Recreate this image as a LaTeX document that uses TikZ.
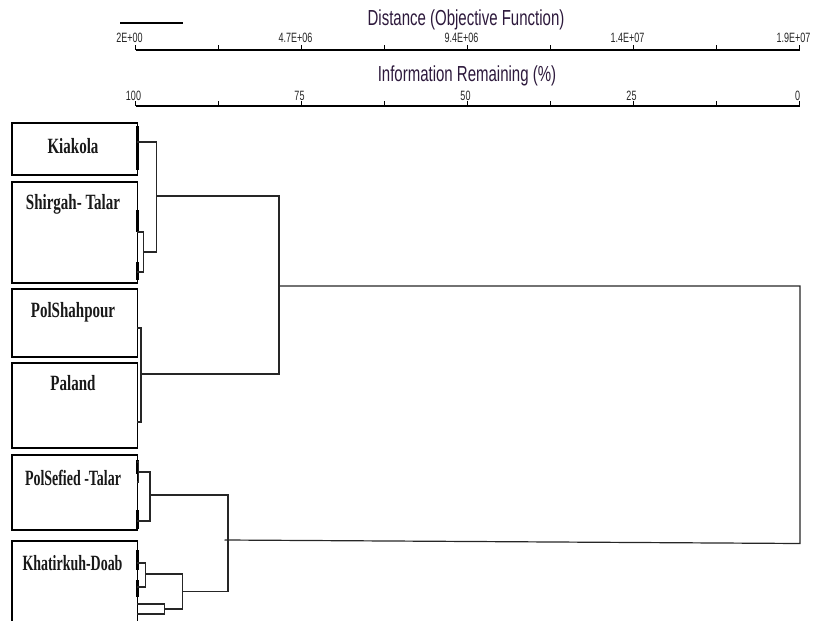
\documentclass[tikz,border=0pt]{standalone}
\usepackage{fontspec}
\setmainfont{Liberation Serif}
\newfontfamily\axfont{Liberation Sans}
\newcommand\vstretch[2]{\scalebox{1}[#1]{#2}}
\definecolor{titlecol}{RGB}{45,25,60}
\begin{document}
\begin{tikzpicture}[x=1pt,y=-1pt,
  box/.style={draw=black, line width=1.5pt, inner sep=0pt, minimum width=125.5pt, anchor=north west},
  lab/.style={font=\bfseries\fontsize{15}{15}\selectfont, inner sep=0pt, text=black!90},
  link/.style={draw=black!85, line width=1.2pt},
  blob/.style={draw=black, line width=2.4pt},
  axisline/.style={draw=black, line width=1.4pt},
  ticklab/.style={font=\axfont\fontsize{9}{9}\selectfont, inner sep=0pt, text=black!85},
  axtitle/.style={font=\axfont\fontsize{15}{15}\selectfont, inner sep=0pt, text=titlecol}]
\useasboundingbox (0,0) rectangle (815,621);

% ---- axes ----
\node[axtitle] (t1) at (466,20) {\vstretch{1.45}{Distance (Objective Function)}};
\node[axtitle] (t2) at (467,76) {\vstretch{1.45}{Information Remaining (\%)}};
\coordinate (sb1) at (120,23); \coordinate (sb2) at (183,23);
\draw[line width=1.3pt] (sb1) -- (sb2);

\coordinate (a1s) at (135.5,50); \coordinate (a1e) at (799.5,50);
\draw[axisline] (a1s) -- (a1e);
\foreach \k in {0,...,8}{
  \draw[line width=1.3pt] (135.5+83*\k,50) -- (135.5+83*\k,45);
}
\foreach \k/\t in {0/2E+00,2/4.7E+06,4/9.4E+06,6/1.4E+07,8/1.9E+07}{
  \node[ticklab] at (135.5+83*\k-6,37.5) {\vstretch{1.5}{\t}};
}
\coordinate (a2s) at (135.5,106); \coordinate (a2e) at (799.5,106);
\draw[axisline, line width=2pt] (a2s) -- (a2e);
\foreach \k in {0,...,8}{
  \draw[line width=1.3pt] (135.5+83*\k,106) -- (135.5+83*\k,101);
}
\foreach \k/\t in {0/100,2/75,4/50,6/25,8/0}{
  \node[ticklab] at (135.5+83*\k-2,96) {\vstretch{1.5}{\t}};
}

% ---- leaf boxes ----
\node[box, minimum height=52pt] (kia) at (11,122) {};
\node[box, minimum height=101pt] (shi) at (11,181) {};
\node[box, minimum height=68pt] (pols) at (11,288) {};
\node[box, minimum height=85pt] (pal) at (11,362) {};
\node[box, minimum height=75pt] (pse) at (11,454) {};
\node[box, minimum height=90pt] (kha) at (11,540) {};

\node[lab] (kiat) at (73,146) {\vstretch{1.45}{Kiakola}};
\node[lab] (shit) at (73,204) {\vstretch{1.45}{Shirgah- Talar}};
\node[lab] (polst) at (73,312) {\vstretch{1.45}{PolShahpour}};
\node[lab] (palt) at (73,383) {\vstretch{1.45}{Paland}};
\node[lab] (pset) at (73,478) {\scalebox{0.93}[1.45]{PolSefied -Talar}};
\node[lab] (khat) at (72.5,563) {\scalebox{0.93}[1.45]{Khatirkuh-Doab}};

% tiny merges hugging the box edges
\draw[blob] (137.3,126) -- (137.3,170);
\draw[blob] (137.3,210) -- (137.3,232);
\draw[blob] (137.3,262) -- (137.3,280);
\draw[blob] (137.3,460) -- (137.3,474);
\draw[blob] (137.3,510) -- (137.3,529);
\draw[blob] (137.3,550) -- (137.3,570);
\draw[blob] (137.3,580) -- (137.3,597);

% ---- dendrogram ----
% leaf attach points
\coordinate (lk) at (137,142);
\coordinate (ls1) at (137,232);
\coordinate (ls2) at (137,272);
\coordinate (lp1) at (137,328);
\coordinate (lp2) at (137,422);
\coordinate (le1) at (136.5,462);
\coordinate (le2) at (136.5,482);
\coordinate (le3) at (137,521);
\coordinate (lh1) at (137,563);
\coordinate (lh2) at (137,587);
\coordinate (lh3) at (137,604);
\coordinate (lh4) at (137,614);
% junctions
\coordinate (js) at (143.3,252);
\coordinate (jA) at (156.7,196);
\coordinate (jB) at (141,374);
\coordinate (jAB) at (279,286);
\coordinate (je) at (138.3,472);
\coordinate (jC) at (150,495);
\coordinate (jh1) at (145.7,574);
\coordinate (jh2) at (164.3,609);
\coordinate (jD) at (182.3,591.7);
\coordinate (jCD) at (228,540);
\coordinate (root) at (800,415);

% Shirgah sub-bracket
\draw[link] (ls1) -| (js) |- (ls2);
% Kiakola + Shirgah
\draw[link] (lk) -| (jA) |- (js);
% PolShahpour + Paland
\draw[link] (lp1) -| (jB) |- (lp2);
% A + B
\draw[link] (jA) -| (jAB) |- (jB);
% PolSefied
\draw[link] (le1) -| (je) |- (le2);
\draw[link] (je) -| (jC) |- (le3);
% Khatirkuh
\draw[link] (lh1) -| (jh1) |- (lh2);
\draw[link] (lh3) -| (jh2) |- (lh4);
\draw[link] (jh1) -| (jD) |- (jh2);
% C + D
\draw[link] (jC) -| (jCD) |- (jD);
% root
\coordinate (rb) at (800,543.5);
\coordinate (cdl) at (224.5,540);
\draw[link] (jAB) -| (root) -- (rb) -- (cdl);
\end{tikzpicture}
\end{document}
